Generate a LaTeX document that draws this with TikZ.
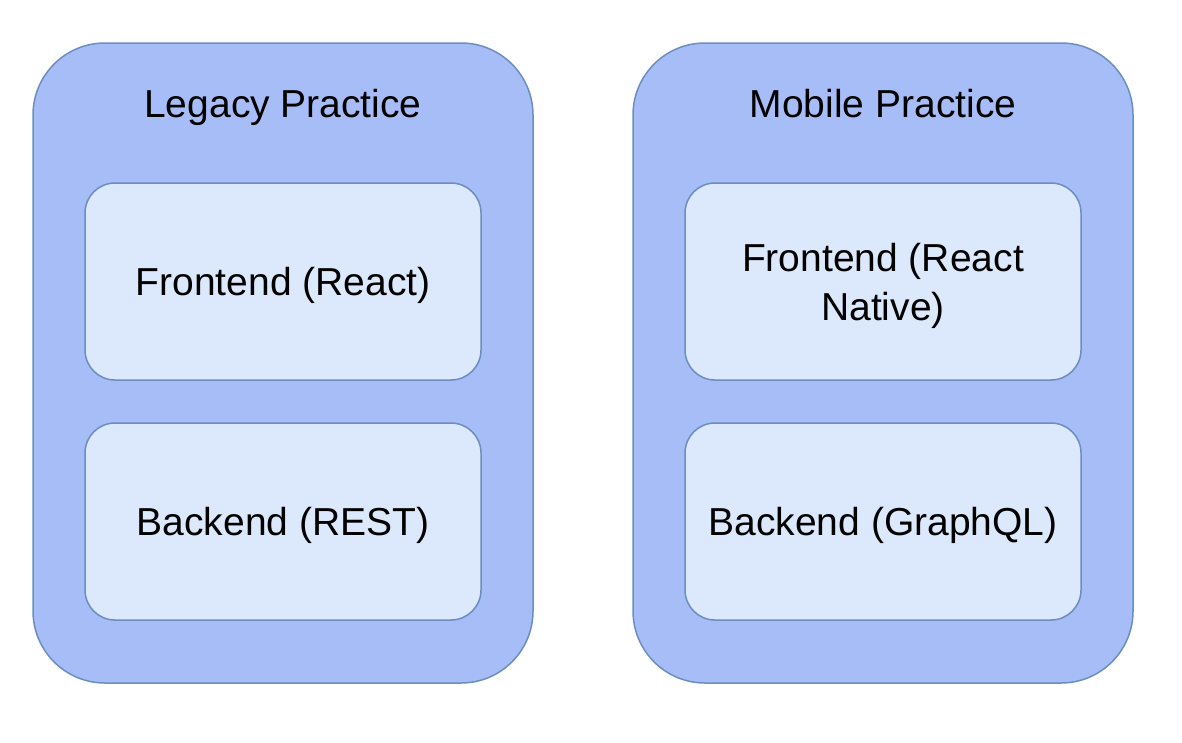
\documentclass[tikz,border=0pt]{standalone}
\usepackage{fontspec}
\setmainfont{Liberation Sans}
\usetikzlibrary{positioning}

\definecolor{practiceFill}{RGB}{166,189,247}
\definecolor{layerFill}{RGB}{220,232,252}
\definecolor{edgeBlue}{RGB}{108,142,191}

\begin{document}
\begin{tikzpicture}[
    x=1pt, y=-1pt,
    practice/.style={draw=edgeBlue,fill=practiceFill,line width=1.5pt,rounded corners=72pt,
        minimum width=500pt,minimum height=640pt,inner sep=0pt},
    layer/.style={draw=edgeBlue,fill=layerFill,line width=1.5pt,rounded corners=30pt,
        minimum width=396pt,minimum height=197pt,inner sep=0pt,align=center,text depth=0pt,
        font=\fontsize{39}{49}\selectfont},
    title/.style={font=\fontsize{39}{49}\selectfont,text depth=0pt}
]

% Rahmen des Bildes
\useasboundingbox (0,0) rectangle (1182,742);

% Linke Spalte: Legacy
\node[practice] (legacy) at (283,363) {};
\node[title] (legacy title) at (283,103) {Legacy Practice};
\node[layer] (legacy front) at (283,281.5) {Frontend (React)};
\node[layer] (legacy back) at (283,521.5) {Backend (REST)};

% Rechte Spalte: Mobile
\node[practice] (mobile) at (883,363) {};
\node[title] (mobile title) at (883,103) {Mobile Practice};
\node[layer] (mobile front) at (883,281.5) {Frontend (React\\Native)};
\node[layer] (mobile back) at (883,521.5) {Backend (GraphQL)};

\end{tikzpicture}
\end{document}
